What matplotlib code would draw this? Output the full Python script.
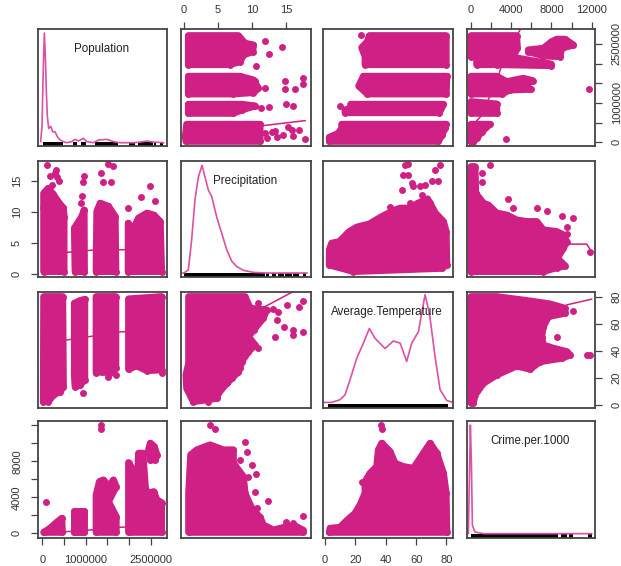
import matplotlib
matplotlib.use("Agg")
import matplotlib.pyplot as plt

plt.rcParams['font.family'] = ['Liberation Sans', 'DejaVu Sans']

names = ["Population", "Precipitation", "Average.Temperature", "Crime.per.1000"]
pop_ticks = [0, 500000, 1000000, 1500000, 2000000, 2500000]
pop_labels = ["0", "", "1000000", "", "", "2500000"]
prec_ticks = [0, 5, 10, 15]
prec_labels = ["0", "5", "10", "15"]
temp_ticks = [0, 20, 40, 60, 80]
temp_labels = ["0", "20", "40", "60", "80"]
crime_ticks = [0, 2000, 4000, 6000, 8000, 10000, 12000]
crime_top_labels = ["0", "", "4000", "", "8000", "", "12000"]
crime_left_labels = ["0", "", "4000", "", "8000", "", ""]

pop_xlim = (-100000, 2870000)
pop_ylim = (-94000, 2880000)
prec_xlim = (-0.44, 18.6)
prec_ylim = (-0.5, 18.2)
temp_xlim = (-1.3, 84.3)
temp_ylim = (-2.2, 83.4)
crime_xlim = (-367, 12330)
crime_ylim = (-520, 12500)

# Density curves (value, relative density)
pop_dens_x = [-38000, -8000, 23000, 46000, 69000, 92000, 115000, 146000, 192000, 238000, 292000, 346000, 408000, 485000, 562000, 677000, 754000, 831000, 946000, 1023000, 1177000, 1292000, 1485000, 1638000, 1792000, 2100000, 2254000, 2408000, 2562000, 2792000]
pop_dens_y = [0.01, 0.15, 0.70, 1.0, 0.79, 0.47, 0.24, 0.13, 0.15, 0.10, 0.10, 0.055, 0.025, 0.01, 0.0, 0.01, 0.03, 0.015, 0.04, 0.01, 0.0, 0.025, 0.03, 0.01, 0.0, 0.0, 0.006, 0.015, 0.006, 0.0]
prec_dens_x = [-0.25, 0.0, 0.64, 1.12, 1.61, 2.1, 2.64, 3.08, 3.57, 4.06, 4.79, 5.52, 6.26, 6.99, 7.72, 8.7, 10.17, 12.1, 18.0]
prec_dens_y = [0.0, 0.0, 0.03, 0.31, 0.68, 0.89, 1.0, 0.89, 0.77, 0.71, 0.52, 0.37, 0.215, 0.11, 0.06, 0.025, 0.006, 0.0, 0.0]
temp_dens_x = [-1.1, 4.4, 9.9, 13.2, 16.5, 20.9, 25.3, 29.2, 33.0, 39.6, 45.0, 49.5, 53.8, 57.1, 61.5, 65.9, 68.8, 72.5, 75.8, 80.2, 84.2]
temp_dens_y = [0.0, 0.0, 0.025, 0.07, 0.21, 0.41, 0.55, 0.686, 0.594, 0.50, 0.57, 0.55, 0.38, 0.55, 0.655, 1.0, 0.825, 0.425, 0.117, 0.018, 0.0]
crime_dens_x = [-231, -132, -33, 66, 165, 430, 1256, 12000]
crime_dens_y = [0.0, 0.49, 1.0, 0.677, 0.077, 0.015, 0.0, 0.0]

# Rug spans (start, length)
pop_rug = [(8000, 477000), (700000, 92000), (885000, 123000), (1215000, 516000), (1985000, 153000), (2192000, 354000), (2577000, 46000), (2715000, 62000)]
prec_rug = [(0.0, 11.8), (12.0, 0.5), (12.9, 0.6), (13.8, 0.8), (14.8, 1.0), (16.0, 0.8), (17.5, 0.4)]
temp_rug = [(2.2, 79.1)]
crime_rug = [(33, 8662), (8926, 595), (9786, 396), (11670, 330)]

# Row 1, x = Precipitation, y = Population
prec_pop_blobs = [
    ([0.64, 7.97, 8.94, 10.17, 10.07, 8.7, 8.21, 6.74, 0.64], [2712000, 2712000, 2517000, 2475000, 2305000, 2220000, 2051000, 1975000, 1975000]),
    ([0.64, 8.21, 10.17, 10.9, 10.17, 7.23, 0.64], [1678000, 1678000, 1585000, 1373000, 1263000, 1229000, 1229000]),
    ([0.64, 8.46, 10.41, 8.46, 7.23, 0.64], [966000, 966000, 924000, 822000, 737000, 737000]),
    ([0.39, 11.14, 11.14, 0.29, 0.2], [458000, 458000, 25000, 25000, 144000]),
]
prec_pop_pts_x = [10.56, 11.88, 14.37, 12.51, 11.88, 14.81, 14.81, 16.23, 17.5, 17.5, 10.41, 11.29, 12.51, 14.96, 15.93, 11.88, 12.85, 13.34, 12.12, 13.59, 14.56, 15.3, 15.79, 16.03, 16.77, 17.74]
prec_pop_pts_y = [1949000, 2585000, 2432000, 2246000, 1373000, 1568000, 1348000, 1348000, 1627000, 1483000, 1568000, 881000, 907000, 966000, 924000, 229000, 271000, 288000, 102000, 144000, 186000, 398000, 314000, 161000, 314000, 76000]
prec_pop_line_x = [11.14, 17.74]
prec_pop_line_y = [415000, 551000]

# Row 1, x = Temperature, y = Population
temp_pop_blobs = [
    ([29.2, 79.8, 79.8, 26.4, 26.4, 24.2, 27.9], [2712000, 2712000, 1975000, 1975000, 2178000, 2407000, 2559000]),
    ([25.3, 80.2, 79.8, 27.9, 22.2, 24.2], [1678000, 1678000, 1229000, 1229000, 1432000, 1585000]),
    ([16.9, 78.0, 75.4, 13.2, 13.2, 17.6], [966000, 966000, 754000, 754000, 822000, 881000]),
    ([11.0, 79.8, 79.1, 76.9, 74.7, 2.9, 2.9, 8.8, 11.0], [458000, 458000, 356000, 186000, 25000, 25000, 127000, 229000, 356000]),
]
temp_pop_pts_x = [23.5, 9.9]
temp_pop_pts_y = [2729000, 932000]

# Row 1, x = Crime, y = Population
crime_pop_blobs = [
    ([33, 4562, 4628, 4166, 7934, 7934, 2579, 595, 595, 33], [2712000, 2712000, 2390000, 2161000, 1992000, 1949000, 1975000, 1975000, 2178000, 2178000]),
    ([5719, 7207, 8034, 8529, 9356, 10182, 9025, 8860, 7207, 5719], [2348000, 2390000, 2559000, 2619000, 2619000, 2475000, 2390000, 2178000, 2195000, 2305000]),
    ([33, 2579, 3570, 5223, 6149, 5223, 5951, 3901, 3075, 33], [1678000, 1678000, 1542000, 1627000, 1568000, 1432000, 1348000, 1331000, 1229000, 1229000]),
    ([33, 2579, 2579, 33], [1034000, 975000, 737000, 737000]),
    ([33, 1917, 1091, 595, 264, 33], [458000, 458000, 271000, 102000, 17000, 17000]),
]
crime_pop_pts_x = [11769, 3471]
crime_pop_pts_y = [1348000, 85000]
crime_pop_line_x = [595, 992, 2744, 2909, 4496, 4893]
crime_pop_line_y = [551000, 653000, 1653000, 1839000, 2670000, 2856000]

# Row 2, x = Population, y = Precipitation
pop_prec_blobs = [
    ([31000, 485000, 500000, 500000, 31000], [10.6, 10.6, 9.25, 0.38, 0.38]),
    ([31000, 31000, 138000, 254000, 369000, 485000], [10.6, 13.0, 13.8, 12.8, 11.6, 10.6]),
    ([738000, 908000, 962000, 969000, 754000], [7.37, 9.25, 10.3, 0.38, 0.38]),
    ([1254000, 1331000, 1523000, 1677000, 1692000, 1238000], [10.05, 11.4, 10.9, 9.25, 0.38, 0.38]),
    ([1977000, 2062000, 2215000, 2408000, 2562000, 2715000, 2746000, 1977000], [8.17, 6.83, 9.0, 9.8, 9.5, 8.44, 0.38, 0.38]),
]
pop_prec_pts_x = [100000, 177000, 315000, 346000, 392000, 292000, 215000, 962000, 946000, 908000, 892000, 1508000, 1623000, 1346000, 1385000, 1585000, 2469000, 2269000, 2592000, 1969000]
pop_prec_pts_y = [17.6, 15.8, 16.7, 15.7, 14.9, 16.2, 14.35, 15.86, 14.8, 12.5, 11.4, 17.7, 17.4, 16.2, 14.8, 14.8, 14.25, 12.4, 11.8, 10.6]
pop_prec_line_x = [31000, 615000, 1085000, 1838000, 2746000]
pop_prec_line_y = [3.4, 3.5, 3.8, 3.9, 4.0]

# Row 2, x = Temperature, y = Precipitation
temp_prec_blobs = [
    ([2.86, 2.86, 4.4, 9.45, 13.85, 16.0, 20.9, 29.2, 36.7, 45.0, 49.5, 56.0, 60.4, 67.5, 69.2, 72.7, 78.0, 79.8, 80.2, 76.9, 18.7],
     [1.45, 3.87, 4.95, 5.2, 6.3, 6.83, 7.53, 8.06, 9.14, 10.2, 10.6, 10.6, 11.3, 12.1, 11.4, 9.8, 8.44, 6.83, 1.45, 0.9, 0.38]),
]
temp_prec_pts_x = [54.9, 52.7, 51.2, 54.9, 57.1, 58.2, 50.5, 62.6, 65.9, 70.3, 74.7, 72.7, 75.8, 63.7, 56.0, 42.9]
temp_prec_pts_y = [17.7, 17.6, 16.0, 16.0, 14.6, 14.1, 13.55, 14.1, 14.35, 14.9, 14.9, 16.8, 17.5, 12.7, 11.5, 10.75]

# Row 2, x = Crime, y = Precipitation
crime_prec_blobs = [
    ([33, 430, 496, 1256, 1752, 2579, 3570, 4562, 5554, 6546, 7207, 8529, 9190, 9521, 9190, 8595, 9356, 8529, 7207, 33],
     [17.3, 17.3, 13.0, 11.4, 11.1, 9.8, 9.5, 8.7, 8.44, 8.44, 7.1, 6.83, 6.3, 5.2, 4.14, 2.53, 1.3, 1.0, 0.38, 0.38]),
]
crime_prec_pts_x = [1917, 1091, 1157, 3670, 4232, 6612, 7604, 9025, 10182, 11835, 9521, 9587]
crime_prec_pts_y = [17.6, 16.2, 14.8, 12.1, 10.6, 10.6, 10.1, 9.3, 9.0, 3.6, 7.5, 6.5]
crime_prec_line_x = [9852, 11505, 11900]
crime_prec_line_y = [4.8, 4.8, 3.8]

# Row 3, x = Population, y = Temperature
pop_temp_blobs = [
    ([31000, 469000, 485000, 408000, 254000, 138000, 23000], [80.0, 80.0, 13.5, 9.85, 7.4, 2.5, 2.5]),
    ([738000, 869000, 977000, 977000, 869000, 754000, 738000], [75.1, 77.1, 78.0, 18.5, 14.8, 13.5, 22.2]),
    ([1238000, 1692000, 1692000, 1562000, 1369000, 1238000], [80.0, 80.0, 27.1, 23.4, 24.6, 23.9]),
    ([1985000, 2746000, 2746000, 2408000, 2177000, 2062000, 1985000], [78.3, 80.0, 25.9, 25.4, 28.8, 27.8, 26.4]),
]
pop_temp_pts_x = [946000, 1692000, 1508000, 2746000]
pop_temp_pts_y = [8.6, 22.4, 20.9, 23.6]
pop_temp_line_x = [31000, 562000, 1085000, 1800000, 2746000]
pop_temp_line_y = [46.0, 48.0, 50.5, 54.0, 55.0]

# Row 3, x = Precipitation, y = Temperature
prec_temp_blobs = [
    ([0.68, 8.94, 9.68, 12.1, 11.6, 10.2, 9.43, 10.4, 9.43, 8.46, 7.97, 7.0, 6.26, 5.03, 4.79, 1.37, 0.39, 0.29, 0.68],
     [80.0, 80.0, 71.4, 70.2, 64.0, 55.4, 50.5, 44.3, 39.4, 32.0, 24.6, 19.7, 16.0, 8.6, 4.9, 2.5, 12.3, 22.2, 30.8]),
]
prec_temp_pts_x = [10.9, 13.1, 13.8, 15.05, 16.8, 17.5, 13.6, 14.6, 16.0, 17.5, 13.3, 16.0, 10.9, 8.2, 3.57]
prec_temp_pts_y = [75.1, 70.7, 69.0, 73.9, 72.7, 76.4, 62.8, 57.9, 55.4, 54.2, 50.5, 51.7, 41.9, 27.1, 2.5]
prec_temp_line_x = [11.4, 16.0]
prec_temp_line_y = [71.4, 83.7]

# Row 3, x = Crime, y = Temperature
crime_temp_blobs = [
    ([33, 2579, 5554, 7868, 9356, 9356, 7703, 7207, 7042, 7207, 8199, 9521, 9852, 9025, 6876, 5885, 4562, 2579, 1256, 430, 264, 33],
     [80.0, 80.0, 77.1, 74.6, 71.4, 67.7, 65.3, 57.9, 50.5, 44.3, 41.9, 39.4, 36.9, 34.5, 32.0, 26.4, 28.8, 22.2, 16.0, 7.4, 1.7, 1.7]),
]
crime_temp_pts_x = [11835, 11505, 10182, 8529]
crime_temp_pts_y = [36.9, 36.9, 69.7, 50.5]
crime_temp_line_x = [9521, 12000]
crime_temp_line_y = [73.9, 78.1]

# Row 4, x = Population, y = Crime
pop_crime_blobs = [
    ([31000, 177000, 331000, 446000, 462000, 31000], [111, 557, 1226, 1672, 111, 111]),
    ([738000, 908000, 969000, 969000, 738000], [2489, 2489, 2489, 111, 111]),
    ([1238000, 1315000, 1408000, 1523000, 1638000, 1700000, 1523000, 1700000, 1700000, 1238000], [4272, 5758, 5944, 5201, 5944, 5201, 3529, 1858, 111, 111]),
    ([1985000, 1985000, 2038000, 2062000, 2177000, 2215000, 2315000, 2377000, 2446000, 2562000, 2638000, 2746000, 2746000], [111, 7876, 7430, 4458, 4458, 8916, 8916, 4830, 4458, 4644, 3715, 3418, 111]),
    ([2485000, 2577000, 2638000, 2600000, 2485000, 2446000], [10030, 9659, 8730, 8173, 8173, 9287]),
]
pop_crime_pts_x = [77000, 1354000, 1354000]
pop_crime_pts_y = [3529, 12000, 11628]
pop_crime_line_x = [562000, 1100000, 1777000, 2100000, 2177000]
pop_crime_line_y = [190, 370, 669, 743, 446]

# Row 4, x = Precipitation, y = Crime
prec_crime_blobs = [
    ([0.68, 0.68, 0.98, 1.86, 3.81, 5.77, 7.23, 7.23, 8.7, 8.94, 9.92, 11.14, 11.63, 13.1, 15.05, 16.28, 17.4, 17.4],
     [111, 4458, 8730, 9287, 9845, 9287, 9287, 7801, 6315, 4458, 2786, 1783, 929, 372, 743, 817, 372, 111]),
]
prec_crime_pts_x = [3.81, 4.55, 8.94, 9.19, 8.21, 9.92, 10.56, 9.43, 10.41, 12.37, 17.5, 10.65, 14.96, 16.03]
prec_crime_pts_y = [12074, 11628, 10216, 9027, 8173, 7616, 6613, 6315, 4644, 3604, 1932, 2786, 1226, 1115]

# Row 4, x = Temperature, y = Crime
temp_crime_blobs = [
    ([2.86, 3.3, 9.89, 14.29, 19.78, 23.08, 26.37, 26.37, 29.67, 34.07, 35.16, 37.36, 42.86, 46.15, 51.65, 58.24, 64.84, 69.23, 73.63, 78.02, 79.78, 80.22],
     [111, 557, 669, 1412, 2229, 3158, 4458, 5758, 6687, 7430, 9287, 10030, 9102, 7801, 7430, 7244, 8916, 10030, 8916, 6687, 4458, 111]),
]
temp_crime_pts_x = [36.9, 37.8, 24.2]
temp_crime_pts_y = [12074, 11628, 5758]

POINT = '#CF2085'
DENS = '#DE4FA5'
FRAME = '#444444'
W, H = 621, 566
col_px = [(38, 167), (181, 311), (323, 453), (467, 595)]
row_px = [(29, 146), (161, 277), (292, 408), (421, 538)]

fig = plt.figure(figsize=(W / 100, H / 100), dpi=100, facecolor='white')


def make_ax(r, c, xlim, ylim):
    x0, x1 = col_px[c]
    y0, y1 = row_px[r]
    ax = fig.add_axes([x0 / W, 1 - y1 / H, (x1 - x0) / W, (y1 - y0) / H])
    ax.set_xlim(xlim)
    ax.set_ylim(ylim)
    ax.set_xticks([])
    ax.set_yticks([])
    for s in ax.spines.values():
        s.set_linewidth(1.3)
        s.set_color(FRAME)
    return ax


def scatter_panel(r, c, xlim, ylim, blobs, px, py, lx=None, ly=None):
    ax = make_ax(r, c, xlim, ylim)
    for bx, by in blobs:
        ax.fill(bx, by, facecolor=POINT, edgecolor=POINT, linewidth=5, joinstyle='round')
        ax.scatter(bx, by, s=25, color=POINT, linewidths=0)
    ax.scatter(px, py, s=25, color=POINT, linewidths=0)
    if lx is not None:
        ax.plot(lx, ly, color=POINT, lw=1.1)
    return ax


def density_panel(i, xlim, dx, dy, rug, ylim):
    ax = make_ax(i, i, xlim, ylim)
    ax.broken_barh(rug, (ylim[0], 0.035 * (ylim[1] - ylim[0])), facecolors='black', linewidth=0)
    ax.plot(dx, dy, color=DENS, lw=1.2)
    ax.text(0.49, 0.83, names[i], transform=ax.transAxes, ha='center', va='center', fontsize=8.4, color='#222222')
    return ax


def style_axis(axis, ticks, labels, side, pad, rotate=False):
    axis.set_ticks(ticks)
    axis.set_ticklabels(labels)
    axis.set_ticks_position(side)
    axis.set_tick_params(length=5, width=0.9, color='#444444', labelsize=8, labelcolor='#333333', pad=pad)
    if rotate:
        for t in axis.get_ticklabels():
            t.set_rotation(90)
            t.set_va('center')


ax11 = density_panel(0, pop_xlim, pop_dens_x, pop_dens_y, pop_rug, (-0.03, 1.037))
ax12 = scatter_panel(0, 1, prec_xlim, pop_ylim, prec_pop_blobs, prec_pop_pts_x, prec_pop_pts_y, prec_pop_line_x, prec_pop_line_y)
ax13 = scatter_panel(0, 2, temp_xlim, pop_ylim, temp_pop_blobs, temp_pop_pts_x, temp_pop_pts_y)
ax14 = scatter_panel(0, 3, crime_xlim, pop_ylim, crime_pop_blobs, crime_pop_pts_x, crime_pop_pts_y, crime_pop_line_x, crime_pop_line_y)

ax21 = scatter_panel(1, 0, pop_xlim, prec_ylim, pop_prec_blobs, pop_prec_pts_x, pop_prec_pts_y, pop_prec_line_x, pop_prec_line_y)
ax22 = density_panel(1, prec_xlim, prec_dens_x, prec_dens_y, prec_rug, (-0.037, 1.04))
ax23 = scatter_panel(1, 2, temp_xlim, prec_ylim, temp_prec_blobs, temp_prec_pts_x, temp_prec_pts_y)
ax24 = scatter_panel(1, 3, crime_xlim, prec_ylim, crime_prec_blobs, crime_prec_pts_x, crime_prec_pts_y, crime_prec_line_x, crime_prec_line_y)

ax31 = scatter_panel(2, 0, pop_xlim, temp_ylim, pop_temp_blobs, pop_temp_pts_x, pop_temp_pts_y, pop_temp_line_x, pop_temp_line_y)
ax32 = scatter_panel(2, 1, prec_xlim, temp_ylim, prec_temp_blobs, prec_temp_pts_x, prec_temp_pts_y, prec_temp_line_x, prec_temp_line_y)
ax33 = density_panel(2, temp_xlim, temp_dens_x, temp_dens_y, temp_rug, (-0.052, 1.025))
ax34 = scatter_panel(2, 3, crime_xlim, temp_ylim, crime_temp_blobs, crime_temp_pts_x, crime_temp_pts_y, crime_temp_line_x, crime_temp_line_y)

ax41 = scatter_panel(3, 0, pop_xlim, crime_ylim, pop_crime_blobs, pop_crime_pts_x, pop_crime_pts_y, pop_crime_line_x, pop_crime_line_y)
ax42 = scatter_panel(3, 1, prec_xlim, crime_ylim, prec_crime_blobs, prec_crime_pts_x, prec_crime_pts_y)
ax43 = scatter_panel(3, 2, temp_xlim, crime_ylim, temp_crime_blobs, temp_crime_pts_x, temp_crime_pts_y)
ax44 = density_panel(3, crime_xlim, crime_dens_x, crime_dens_y, crime_rug, (-0.04, 1.037))

style_axis(ax12.xaxis, prec_ticks, prec_labels, 'top', 5)
style_axis(ax14.xaxis, crime_ticks, crime_top_labels, 'top', 5)
style_axis(ax41.xaxis, pop_ticks, pop_labels, 'bottom', 7)
style_axis(ax43.xaxis, temp_ticks, temp_labels, 'bottom', 7)
style_axis(ax21.yaxis, prec_ticks, prec_labels, 'left', 6.5, True)
style_axis(ax41.yaxis, crime_ticks, crime_left_labels, 'left', 6.5, True)
style_axis(ax14.yaxis, pop_ticks, pop_labels, 'right', 7, True)
style_axis(ax34.yaxis, temp_ticks, temp_labels, 'right', 7, True)

fig.savefig('out.png', dpi=100, facecolor='white')
